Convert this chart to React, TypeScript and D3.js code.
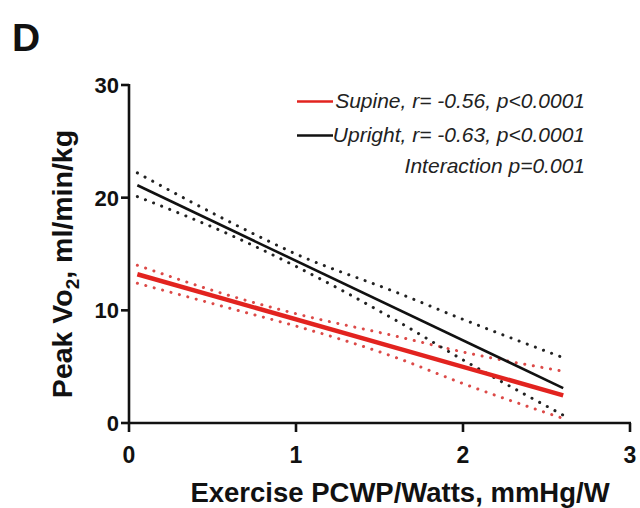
import React from "react";
import * as d3 from "d3";

// Exercise PCWP/Watts (mmHg/W) positions where the fits and bands are sampled
const bandX = [0.05, 0.65, 1.0, 1.6, 2.0, 2.6];

// Regression fit endpoints, Peak VO2 (ml/min/kg)
const fitX = [0.05, 2.6];
const uprightFit = [21.1, 3.1];
const supineFit = [13.2, 2.45];

// 95% confidence bands
const uprightUpper = [22.2, 17.5, 15.0, 11.6, 9.2, 5.8];
const uprightLower = [20.1, 16.4, 13.9, 9.1, 5.6, 0.7];
const supineUpper = [14.0, 11.1, 9.7, 7.7, 6.3, 4.6];
const supineLower = [12.4, 10.0, 8.6, 5.8, 3.5, 0.4];

const xTicks = [0, 1, 2, 3];
const yTicks = [0, 10, 20, 30];

const legendRows = [
  { label: "Supine, r= -0.56, p<0.0001", color: "#e2231f" },
  { label: "Upright, r= -0.63, p<0.0001", color: "#111111" },
];
const interactionNote = "Interaction p=0.001";

const W = 640;
const H = 508;
const FONT = "'Liberation Sans', Arial, Helvetica, sans-serif";

export default function App() {
  const x = d3.scaleLinear().domain([0, 3]).range([129, 630]);
  const y = d3.scaleLinear().domain([0, 30]).range([423, 85]);

  const line = d3
    .line<[number, number]>()
    .x((d) => x(d[0]))
    .y((d) => y(d[1]));
  const curve = d3
    .line<[number, number]>()
    .x((d) => x(d[0]))
    .y((d) => y(d[1]))
    .curve(d3.curveMonotoneX);

  const pts = (xs: number[], ys: number[]) =>
    xs.map((v, i) => [v, ys[i]] as [number, number]);

  const dotted = {
    fill: "none",
    strokeWidth: 3,
    strokeLinecap: "round" as const,
    strokeDasharray: "0.1 8.6",
  };

  return (
    <div style={{ position: "absolute", left: 0, top: 0 }}>
      <svg width={W} height={H} style={{ display: "block", background: "#fff" }}>
        <text x={12} y={51} fontFamily={FONT} fontWeight="bold" fontSize={39} fill="#111">
          D
        </text>

        {/* confidence bands */}
        <path d={curve(pts(bandX, supineUpper)) ?? ""} stroke="#dc4a48" {...dotted} />
        <path d={curve(pts(bandX, supineLower)) ?? ""} stroke="#dc4a48" {...dotted} />
        <path d={curve(pts(bandX, uprightUpper)) ?? ""} stroke="#222" {...dotted} />
        <path d={curve(pts(bandX, uprightLower)) ?? ""} stroke="#222" {...dotted} />

        {/* regression lines */}
        <path d={line(pts(fitX, supineFit)) ?? ""} stroke="#e2231f" strokeWidth={4.5} fill="none" />
        <path d={line(pts(fitX, uprightFit)) ?? ""} stroke="#111" strokeWidth={2.6} fill="none" />

        {/* y axis */}
        <line x1={x(0)} x2={x(0)} y1={y(30) - 1} y2={y(0) + 1} stroke="#111" strokeWidth={2.6} />
        {yTicks.map((t) => (
          <g key={"y" + t}>
            <line x1={x(0) - 8} x2={x(0)} y1={y(t)} y2={y(t)} stroke="#111" strokeWidth={2.6} />
            <text
              x={x(0) - 10}
              y={y(t)}
              dy="0.36em"
              textAnchor="end"
              fontFamily={FONT}
              fontWeight="bold"
              fontSize={22}
              fill="#111"
            >
              {t}
            </text>
          </g>
        ))}

        {/* x axis */}
        <line x1={x(0) - 1} x2={x(3) + 1} y1={y(0)} y2={y(0)} stroke="#111" strokeWidth={2.6} />
        {xTicks.map((t) => (
          <g key={"x" + t}>
            <line x1={x(t)} x2={x(t)} y1={y(0)} y2={y(0) + 9} stroke="#111" strokeWidth={2.6} />
            <text
              x={x(t)}
              y={463}
              textAnchor="middle"
              fontFamily={FONT}
              fontWeight="bold"
              fontSize={23}
              fill="#111"
            >
              {t}
            </text>
          </g>
        ))}

        <text
          x={400}
          y={502}
          textAnchor="middle"
          fontFamily={FONT}
          fontWeight="bold"
          fontSize={27.5}
          fill="#111"
        >
          Exercise PCWP/Watts, mmHg/W
        </text>

        <text
          transform={`translate(72,264) rotate(-90)`}
          textAnchor="middle"
          fontFamily={FONT}
          fontWeight="bold"
          fontSize={28.5}
          fill="#111"
        >
          Peak Vo
          <tspan fontSize={19} dy={7}>
            2
          </tspan>
          <tspan dy={-7}>, ml/min/kg</tspan>
        </text>

        {/* legend */}
        {legendRows.map((r, i) => (
          <g key={r.label}>
            <line
              x1={297}
              x2={333}
              y1={101.5 + i * 34}
              y2={101.5 + i * 34}
              stroke={r.color}
              strokeWidth={2.6}
            />
            <text
              x={585}
              y={108 + i * 34}
              textAnchor="end"
              fontFamily={FONT}
              fontStyle="italic"
              fontSize={21}
              fill="#222"
            >
              {r.label}
            </text>
          </g>
        ))}
        <text
          x={585}
          y={173}
          textAnchor="end"
          fontFamily={FONT}
          fontStyle="italic"
          fontSize={21}
          fill="#222"
        >
          {interactionNote}
        </text>
      </svg>
    </div>
  );
}
